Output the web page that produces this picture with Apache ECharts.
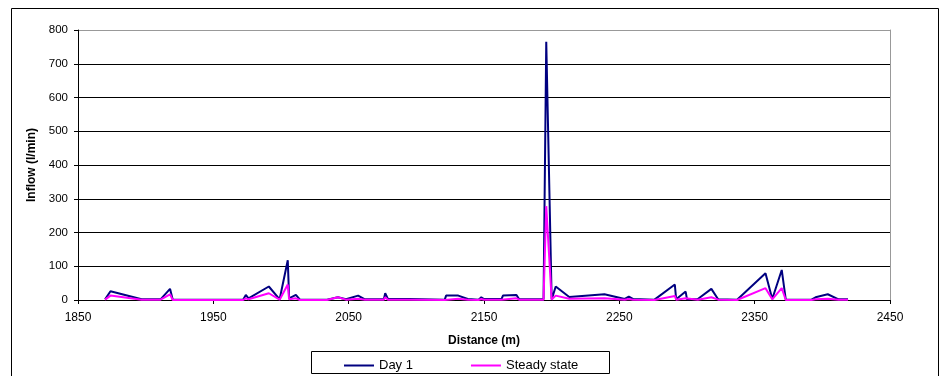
<!DOCTYPE html>
<html>
<head>
<meta charset="utf-8">
<script src="https://cdn.jsdelivr.net/npm/echarts@6/dist/echarts.min.js"></script>
<style>
  html, body { margin: 0; padding: 0; background: #fff; }
  #chart { width: 947px; height: 376px; }
</style>
</head>
<body>
<div id="chart"></div>
<script>
// Measurement positions along the tunnel (m)
const distance = [1870, 1874, 1897, 1911, 1918, 1920, 1972, 1974, 1976, 1991, 1999, 2005, 2006, 2011, 2014,
  2034, 2042, 2048, 2057, 2062, 2076, 2077, 2079, 2095, 2121, 2122, 2131, 2138, 2146, 2148, 2150, 2163, 2164,
  2174, 2176, 2194, 2196, 2200, 2203, 2213, 2239, 2254, 2257, 2260, 2276, 2291, 2292, 2299, 2300, 2308, 2318,
  2323, 2337, 2358, 2363, 2370, 2373, 2392, 2395, 2404, 2412, 2419];

// Inflow on day 1 (l/min)
const dayOne = [2, 26, 2, 2, 33, 1, 1, 15, 5, 40, 2, 118, 5, 15, 1,
  1, 8, 2, 13, 2, 2, 20, 3, 3, 1, 13, 13, 3, 1, 8, 3, 3, 13,
  15, 2, 2, 765, 2, 40, 9, 17, 3, 10, 3, 1, 46, 2, 25, 2, 3, 33,
  2, 1, 79, 3, 89, 1, 1, 8, 17, 2, 2];

// Steady-state inflow (l/min)
const steadyState = [1, 13, 1, 1, 17, 0, 0, 5, 2, 20, 1, 46, 2, 5, 0,
  0, 8, 1, 4, 1, 1, 8, 1, 1, 0, 4, 4, 1, 0, 3, 1, 1, 4,
  5, 1, 1, 278, 1, 13, 4, 5, 1, 3, 1, 0, 12, 1, 5, 1, 1, 8,
  1, 0, 35, 2, 35, 0, 0, 2, 4, 1, 1];

const xTicks = { min: 1850, max: 2450, step: 100 };
const yTicks = { min: 0, max: 800, step: 100 };

const toPairs = vals => distance.map((d, i) => [d, vals[i]]);

const font = 'Arial, "Liberation Sans", sans-serif';
const chart = echarts.init(document.getElementById('chart'), null, { renderer: 'canvas' });

chart.setOption({
  animation: false,
  backgroundColor: '#fff',
  grid: { left: 78, right: 57, top: 30, bottom: 76, containLabel: false },
  graphic: [
    { type: 'rect', shape: { x: 11.5, y: 8.5, width: 927, height: 400 },
      style: { fill: 'none', stroke: '#000', lineWidth: 1 }, z: -1 },
    { type: 'rect', shape: { x: 311.5, y: 351.5, width: 298, height: 22 },
      style: { fill: 'none', stroke: '#000', lineWidth: 1 }, z: 1 }
  ],
  legend: {
    left: 339, top: 354,
    itemWidth: 30, itemHeight: 2, itemGap: 58,
    icon: 'rect',
    textStyle: { fontFamily: font, fontSize: 13, color: '#000' },
    data: ['Day 1', 'Steady state']
  },
  xAxis: {
    type: 'value',
    min: xTicks.min, max: xTicks.max, interval: xTicks.step,
    name: 'Distance (m)', nameLocation: 'middle', nameGap: 35,
    nameTextStyle: { fontFamily: font, fontSize: 12, fontWeight: 'bold', color: '#000' },
    axisLine: { lineStyle: { color: '#000', width: 1 } },
    axisTick: { show: true, length: 4, lineStyle: { color: '#000' } },
    axisLabel: { fontFamily: font, fontSize: 12, color: '#000', margin: 12, formatter: v => String(v) },
    splitLine: { show: false }
  },
  yAxis: [{
    type: 'value',
    min: yTicks.min, max: yTicks.max, interval: yTicks.step,
    name: 'Inflow (l/min)', nameLocation: 'middle', nameGap: 38,
    nameTextStyle: { fontFamily: font, fontSize: 12, fontWeight: 'bold', color: '#000' },
    axisLine: { show: true, lineStyle: { color: '#000', width: 1 } },
    axisTick: { show: true, length: 4, lineStyle: { color: '#000' } },
    axisLabel: { fontFamily: font, fontSize: 11.5, color: '#000', margin: 10 },
    splitLine: { show: true, lineStyle: { color: ['#000', '#000', '#000', '#000', '#000', '#000', '#000', '#000', '#999'], width: 1 } }
  }, {
    type: 'value', position: 'right',
    min: yTicks.min, max: yTicks.max, interval: yTicks.step,
    axisLine: { show: true, lineStyle: { color: '#999', width: 1 } },
    axisTick: { show: false }, axisLabel: { show: false }, splitLine: { show: false }
  }],
  series: [
    { name: 'Day 1', type: 'line', data: toPairs(dayOne), showSymbol: false, symbol: 'none',
      lineStyle: { color: '#000080', width: 2 }, itemStyle: { color: '#000080' }, z: 2 },
    { name: 'Steady state', type: 'line', data: toPairs(steadyState), showSymbol: false, symbol: 'none',
      lineStyle: { color: '#FF00FF', width: 2 }, itemStyle: { color: '#FF00FF' }, z: 3 }
  ]
});
</script>
</body>
</html>
